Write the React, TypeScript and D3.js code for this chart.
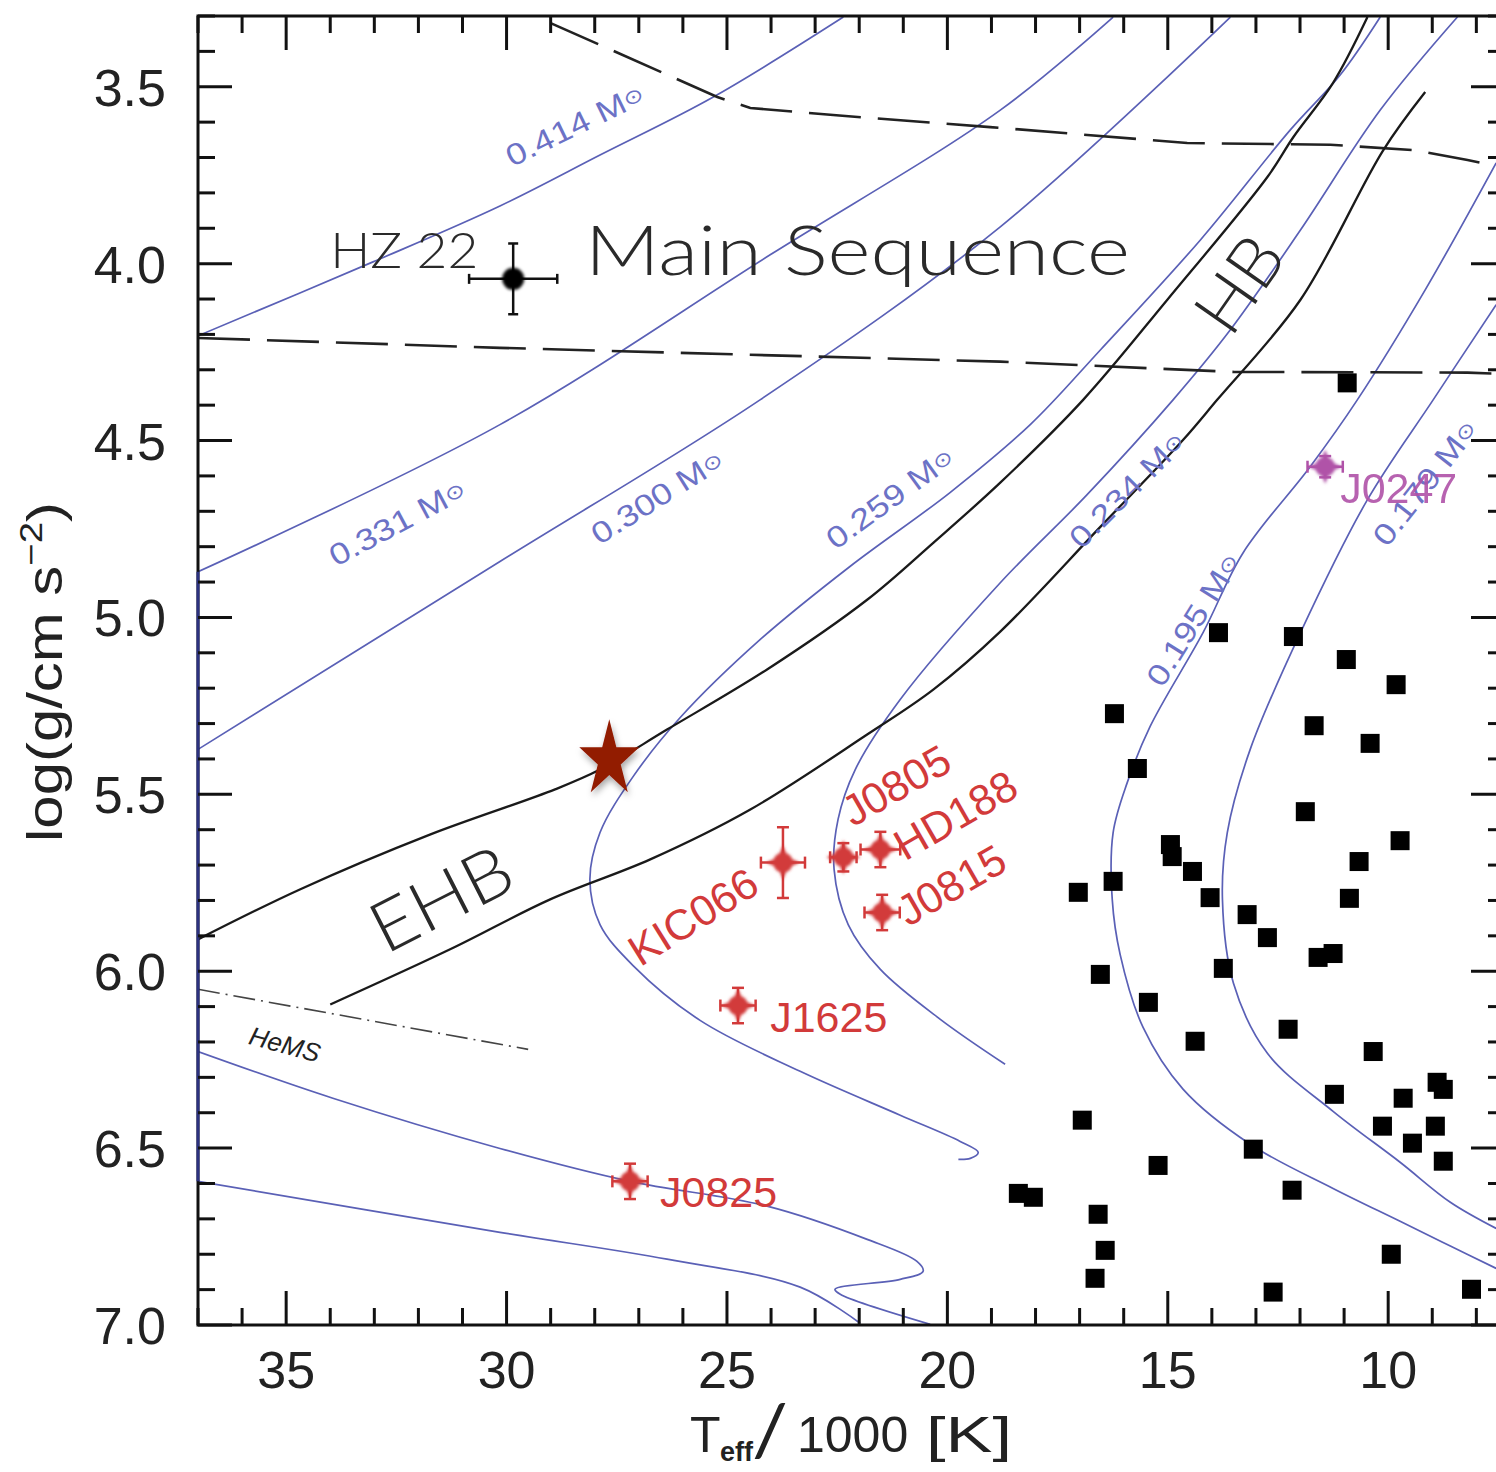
import React from 'react';
import * as d3 from 'd3';

const W = 1496;
const H = 1472;
const PLOT = { left: 198, top: 16, right: 1505, bottom: 1325 };

const xDomain = [37, 7.35];
const yDomain = [3.3, 7.0];
const xMajorTicks = [35, 30, 25, 20, 15, 10];
const yMajorTicks = [3.5, 4.0, 4.5, 5.0, 5.5, 6.0, 6.5, 7.0];

// Evolutionary tracks (Teff/1000, log g)
const track414T = [37, 33.03, 30.15, 27.88, 25.31, 22.36];
const track414G = [4.204, 3.995, 3.837, 3.693, 3.529, 3.303];
const track331T = [37, 30.15, 24.02, 18.8, 16.24];
const track331G = [4.871, 4.455, 3.975, 3.566, 3.303];
const track300T = [37, 30.15, 24.25, 18.8, 13.58];
const track300G = [5.373, 4.842, 4.385, 3.896, 3.303];
const track259T = [10.18, 11.09, 12.22, 14.26, 16.53, 18.12, 19.94, 22.21, 24.25, 26.06, 27.13, 27.88, 28.11, 27.88, 27.13, 25.61, 23.34, 21.07, 19.71, 19.3, 19.48, 19.75];
const track259G = [3.303, 3.467, 3.622, 3.933, 4.244, 4.455, 4.647, 4.856, 5.063, 5.283, 5.45, 5.608, 5.741, 5.868, 5.984, 6.139, 6.283, 6.407, 6.481, 6.512, 6.529, 6.532];
const track234T = [8.43, 10.18, 11.99, 13.58, 14.88, 16.83, 18.8, 21.07, 22.09, 22.48, 22.57, 22.25, 21.52, 20.16, 18.69];
const track234G = [3.303, 3.566, 3.905, 4.187, 4.385, 4.653, 4.902, 5.232, 5.43, 5.571, 5.712, 5.868, 5.995, 6.136, 6.263];
const track195T = [7.55, 9.16, 10.7, 11.77, 13.29, 14.2, 15.4, 15.92, 16.24, 16.26, 16.08, 15.56, 14.65, 13.13, 11.25, 9.73, 8.59, 7.55];
const track195G = [3.715, 4.074, 4.385, 4.574, 4.817, 5.043, 5.308, 5.467, 5.608, 5.797, 5.953, 6.159, 6.334, 6.489, 6.614, 6.707, 6.777, 6.84];
const track179T = [7.55, 8.98, 10.47, 11.99, 13.13, 13.65, 13.76, 13.51, 12.74, 11.25, 9.73, 8.59, 7.55];
const track179G = [4.116, 4.385, 4.667, 5.043, 5.373, 5.608, 5.797, 6.034, 6.232, 6.396, 6.54, 6.653, 6.727];
const trackLowAT = [37, 33.94, 30.15, 27.2, 24.09, 21.82, 20.69, 20.55, 21.07, 22.55, 22.43, 20.39];
const trackLowAG = [6.227, 6.359, 6.501, 6.594, 6.664, 6.758, 6.82, 6.848, 6.871, 6.899, 6.913, 6.998];
const trackLowBT = [37, 30.15, 26.36, 23.34, 21.98];
const trackLowBG = [6.594, 6.738, 6.814, 6.893, 6.995];
const trackEdgeT = [37, 37];
const trackEdgeG = [4.871, 6.594];

// Horizontal branch boundaries
const zahbT = [37, 34.69, 31.74, 28.9, 27.88, 26.36, 24.09, 21.82, 20.32, 18.8, 16.92, 15.01, 12.74, 12.15, 11.25, 10.47];
const zahbG = [5.91, 5.769, 5.614, 5.486, 5.43, 5.317, 5.147, 4.95, 4.789, 4.619, 4.385, 4.102, 3.755, 3.642, 3.489, 3.303];
const tahbT = [34.0, 31.28, 29.01, 26.74, 24.47, 21.82, 20.32, 18.8, 16.53, 14.65, 13.88, 11.99, 10.11, 9.16];
const tahbG = [6.094, 5.938, 5.797, 5.684, 5.543, 5.331, 5.204, 5.04, 4.744, 4.498, 4.385, 4.102, 3.679, 3.515];

// Main sequence band (dashed) and He main sequence (dash-dot)
const msTopT = [29.0, 25.22, 24.47, 22.59, 19.03, 14.56, 11.31, 9.43, 8.2, 7.55];
const msTopG = [3.32, 3.529, 3.56, 3.58, 3.614, 3.659, 3.664, 3.679, 3.707, 3.724];
const msBotT = [37, 30.15, 18.8, 13.51, 8.2, 7.55];
const msBotG = [4.21, 4.238, 4.277, 4.306, 4.308, 4.311];
const hemsT = [37, 29.51];
const hemsG = [6.051, 6.221];

// Black squares (comparison sample)
const sqT = [10.93, 13.85, 12.15, 10.95, 9.82, 16.21, 11.68, 10.41, 15.69, 11.88, 14.94, 14.9, 9.73, 10.66, 14.44, 16.24, 17.03, 14.04, 10.88, 13.2, 12.74, 11.59, 11.25, 16.53, 13.74, 15.44, 14.38, 12.27, 10.34, 11.22, 9.66, 8.89, 8.75, 16.94, 10.13, 8.93, 9.45, 13.06, 8.75, 15.22, 12.18, 18.39, 18.05, 16.58, 16.42, 16.65, 9.93, 12.61, 8.11];
const sqG = [4.337, 5.043, 5.054, 5.119, 5.19, 5.272, 5.306, 5.356, 5.427, 5.549, 5.642, 5.676, 5.631, 5.69, 5.718, 5.746, 5.777, 5.792, 5.794, 5.84, 5.905, 5.961, 5.95, 6.009, 5.992, 6.088, 6.198, 6.164, 6.227, 6.348, 6.359, 6.314, 6.334, 6.421, 6.438, 6.438, 6.486, 6.503, 6.537, 6.549, 6.619, 6.628, 6.639, 6.687, 6.789, 6.868, 6.8, 6.907, 6.899];

// Red objects with error bars
const sdbNames = ['KIC066', 'J0805', 'HD188', 'J0815', 'J1625', 'J0825'];
const sdbT = [23.73, 22.36, 21.52, 21.48, 24.75, 27.2];
const sdbG = [5.693, 5.678, 5.656, 5.834, 6.097, 6.594];
const sdbTErr = [0.5, 0.3, 0.45, 0.4, 0.4, 0.4];
const sdbGErr = [0.1, 0.04, 0.05, 0.05, 0.05, 0.05];
const sdbLabelT = [26.97, 22.14, 20.96, 20.89, 24.02, 26.52];
const sdbLabelG = [5.989, 5.594, 5.69, 5.876, 6.173, 6.667];
const sdbLabelAngle = [-32, -30, -30, -30, 0, 0];

const j0247 = { name: 'J0247', T: 11.43, G: 4.574, TErr: 0.4, GErr: 0.03, labelT: 11.09, labelG: 4.676 };
const hz22 = { name: 'HZ 22', T: 29.85, G: 4.043, TErr: 1.0, GErr: 0.1, labelT: 34.0, labelG: 4.012 };
const starT = 27.67;
const starG = 5.402;

// Track mass labels
const massLabels = ['0.414', '0.331', '0.300', '0.259', '0.234', '0.195', '0.179'];
const massLabelT = [28.45, 32.48, 26.58, 21.3, 15.92, 14.42, 9.16];
const massLabelG = [3.608, 4.732, 4.659, 4.662, 4.639, 5.006, 4.619];
const massLabelAngle = [-26, -28, -32, -36, -45, -58, -52];

const zip = (a: number[], b: number[]) => a.map((v, i) => [v, b[i]] as [number, number]);

const BLUE = '#5a60b6';
const BLUE_TXT = '#6c72c6';
const RED = '#d23a3a';
const PURPLE = '#b052a8';
const FONT = '"Liberation Sans", Arial, "DejaVu Sans", sans-serif';
const LIGHT = 'Lato, "Liberation Sans", sans-serif';

function ErrPoint({ x, y, T, G, TErr, GErr, color, blob }: any) {
  const cx = x(T), cy = y(G);
  const x0 = x(T + TErr), x1 = x(T - TErr);
  const y0 = y(G - GErr), y1 = y(G + GErr);
  const cap = 6;
  return (
    <g stroke={color} fill={color}>
      <line x1={x0} x2={x1} y1={cy} y2={cy} strokeWidth={2.5} />
      <line x1={x0} x2={x0} y1={cy - cap} y2={cy + cap} strokeWidth={2.5} />
      <line x1={x1} x2={x1} y1={cy - cap} y2={cy + cap} strokeWidth={2.5} />
      <line x1={cx} x2={cx} y1={y0} y2={y1} strokeWidth={2.5} />
      <line x1={cx - cap} x2={cx + cap} y1={y0} y2={y0} strokeWidth={2.5} />
      <line x1={cx - cap} x2={cx + cap} y1={y1} y2={y1} strokeWidth={2.5} />
      <g filter="url(#blur)" stroke="none">
        <path d={blob} transform={`translate(${cx},${cy})`} />
        <circle cx={cx} cy={cy} r={10} />
      </g>
    </g>
  );
}

export default function App() {
  const x = d3.scaleLinear().domain(xDomain).range([PLOT.left, PLOT.right]);
  const y = d3.scaleLinear().domain(yDomain).range([PLOT.top, PLOT.bottom]);

  const smooth = d3.line<[number, number]>().x(d => x(d[0])).y(d => y(d[1])).curve(d3.curveCatmullRom.alpha(0.5));
  const straight = d3.line<[number, number]>().x(d => x(d[0])).y(d => y(d[1]));

  const tracks = [
    zip(track414T, track414G), zip(track331T, track331G), zip(track300T, track300G),
    zip(track259T, track259G), zip(track234T, track234G), zip(track195T, track195G),
    zip(track179T, track179G), zip(trackLowAT, trackLowAG), zip(trackLowBT, trackLowBG),
  ];

  const xMinor = d3.range(8, 38, 1);
  const yMinor = d3.range(33, 71, 1).map(v => v / 10);
  const majorLen = 34, minorLen = 17;

  const blob = 'M0,-17 L5,-5 L17,0 L5,5 L0,17 L-5,5 L-17,0 L-5,-5 Z';
  const starPath = d3.symbol().type(d3.symbolStar).size(1115)() as string;

  return (
    <svg width={W} height={H} style={{ position: 'absolute', left: 0, top: 0, background: '#fff' }} fontFamily={FONT}>
      <defs>
        <clipPath id="plotclip">
          <rect x={PLOT.left} y={PLOT.top} width={PLOT.right - PLOT.left} height={PLOT.bottom - PLOT.top} />
        </clipPath>
        <filter id="blur" x="-50%" y="-50%" width="200%" height="200%">
          <feGaussianBlur stdDeviation="1.8" />
        </filter>
        <filter id="shadow" x="-50%" y="-50%" width="200%" height="200%">
          <feDropShadow dx="1.5" dy="3" stdDeviation="3" floodColor="#000" floodOpacity="0.35" />
        </filter>
      </defs>

      <g clipPath="url(#plotclip)">
        {tracks.map((t, i) => (
          <path key={i} d={smooth(t) as string} fill="none" stroke={BLUE} strokeWidth={1.7} />
        ))}
        <path d={straight(zip(msTopT, msTopG)) as string} fill="none" stroke="#222" strokeWidth={2.6} strokeDasharray="52 17" />
        <path d={straight(zip(msBotT, msBotG)) as string} fill="none" stroke="#222" strokeWidth={2.6} strokeDasharray="52 17" />
        <path d={straight(zip(hemsT, hemsG)) as string} fill="none" stroke="#444" strokeWidth={1.6} strokeDasharray="22 6 2 6" />
        <path d={smooth(zip(zahbT, zahbG)) as string} fill="none" stroke="#1a1a1a" strokeWidth={2.3} />
        <path d={smooth(zip(tahbT, tahbG)) as string} fill="none" stroke="#1a1a1a" strokeWidth={2.3} />
        {sqT.map((t, i) => (
          <rect key={i} x={x(t) - 9.5} y={y(sqG[i]) - 9.5} width={19} height={19} fill="#000" />
        ))}
      </g>

      <rect x={PLOT.left} y={PLOT.top} width={PLOT.right - PLOT.left} height={PLOT.bottom - PLOT.top} fill="none" stroke="#111" strokeWidth={3} />
      <path d={straight(zip(trackEdgeT, trackEdgeG)) as string} stroke="#2c3280" strokeWidth={3} fill="none" />

      <g stroke="#111" strokeWidth={3}>
        {xMinor.map(v => {
          const len = xMajorTicks.includes(v) ? majorLen : minorLen;
          return (
            <g key={'x' + v}>
              <line x1={x(v)} x2={x(v)} y1={PLOT.bottom} y2={PLOT.bottom - len} />
              <line x1={x(v)} x2={x(v)} y1={PLOT.top} y2={PLOT.top + len} />
            </g>
          );
        })}
        {yMinor.map(v => {
          const major = yMajorTicks.some(m => Math.abs(m - v) < 1e-6);
          const len = major ? majorLen : minorLen;
          return (
            <g key={'y' + v}>
              <line x1={PLOT.left} x2={PLOT.left + len} y1={y(v)} y2={y(v)} />
              <line x1={PLOT.right} x2={PLOT.right - len} y1={y(v)} y2={y(v)} />
            </g>
          );
        })}
      </g>

      <g fill="#222" fontSize={52}>
        {xMajorTicks.map(v => (
          <text key={v} x={x(v)} y={PLOT.bottom + 63} textAnchor="middle">{v}</text>
        ))}
        {yMajorTicks.map(v => (
          <text key={v} x={166} y={y(v) + 19} textAnchor="end">{d3.format('.1f')(v)}</text>
        ))}
      </g>

      {/* x-axis title */}
      <g fill="#222" fontSize={50}>
        <text x={690} y={1452}>T</text>
        <text x={720} y={1461} fontSize={27} fontWeight="bold">eff</text>
        <text x={752} y={1456} fontFamily={LIGHT} fontWeight={400} fontSize={72} textLength={36} lengthAdjust="spacingAndGlyphs">/</text>
        <text x={797} y={1452}>1000</text>
        <text x={926} y={1452} textLength={86} lengthAdjust="spacingAndGlyphs">[K]</text>
      </g>
      {/* y-axis title */}
      <text transform="translate(62,672) rotate(-90)" textAnchor="middle" fontSize={50} fill="#222" textLength={340} lengthAdjust="spacingAndGlyphs">
        log(g/cm s<tspan fontSize={32} dy={-20}>−2</tspan><tspan dy={20}>)</tspan>
      </text>

      {massLabels.map((m, i) => (
        <text key={m} transform={`translate(${x(massLabelT[i])},${y(massLabelG[i])}) rotate(${massLabelAngle[i]})`}
          textAnchor="middle" dominantBaseline="central" fontSize={30} fill={BLUE_TXT}
          textLength={150} lengthAdjust="spacingAndGlyphs">
          {m} M<tspan fontSize={20}>⊙</tspan>
        </text>
      ))}

      <text x={x(28.22)} y={y(4.032)} fontFamily={LIGHT} fontWeight={300} fontSize={68} fill="#2a2a2a" textLength={545} lengthAdjust="spacingAndGlyphs">Main Sequence</text>
      <text transform={`translate(${x(31.51)},${y(5.789)}) rotate(-27)`} fontFamily={LIGHT} fontWeight={300} textAnchor="middle" dominantBaseline="central" fontSize={70} fill="#2a2a2a" textLength={150} lengthAdjust="spacingAndGlyphs">EHB</text>
      <text transform={`translate(${x(13.42)},${y(4.054)}) rotate(-55)`} fontFamily={LIGHT} fontWeight={300} textAnchor="middle" dominantBaseline="central" fontSize={70} fill="#2a2a2a" textLength={100} lengthAdjust="spacingAndGlyphs">HB</text>
      <text transform={`translate(${x(35.03)},${y(6.207)}) rotate(15)`} textAnchor="middle" dominantBaseline="central" fontSize={26} fontStyle="italic" fill="#222">HeMS</text>

      <g>
        <line x1={x(hz22.T + hz22.TErr)} x2={x(hz22.T - hz22.TErr)} y1={y(hz22.G)} y2={y(hz22.G)} stroke="#111" strokeWidth={2.5} />
        <line x1={x(hz22.T)} x2={x(hz22.T)} y1={y(hz22.G - hz22.GErr)} y2={y(hz22.G + hz22.GErr)} stroke="#111" strokeWidth={2.5} />
        <line x1={x(hz22.T + hz22.TErr)} x2={x(hz22.T + hz22.TErr)} y1={y(hz22.G) - 5} y2={y(hz22.G) + 5} stroke="#111" strokeWidth={2.5} />
        <line x1={x(hz22.T - hz22.TErr)} x2={x(hz22.T - hz22.TErr)} y1={y(hz22.G) - 5} y2={y(hz22.G) + 5} stroke="#111" strokeWidth={2.5} />
        <line x1={x(hz22.T) - 5} x2={x(hz22.T) + 5} y1={y(hz22.G - hz22.GErr)} y2={y(hz22.G - hz22.GErr)} stroke="#111" strokeWidth={2.5} />
        <line x1={x(hz22.T) - 5} x2={x(hz22.T) + 5} y1={y(hz22.G + hz22.GErr)} y2={y(hz22.G + hz22.GErr)} stroke="#111" strokeWidth={2.5} />
        <circle cx={x(hz22.T)} cy={y(hz22.G)} r={11} fill="#000" filter="url(#blur)" />
        <text x={x(hz22.labelT)} y={y(hz22.labelG)} fontFamily={LIGHT} fontWeight={300} fontSize={50} fill="#2a2a2a" textLength={148} lengthAdjust="spacingAndGlyphs">{hz22.name}</text>
      </g>

      {sdbNames.map((n, i) => (
        <g key={n}>
          <ErrPoint x={x} y={y} T={sdbT[i]} G={sdbG[i]} TErr={sdbTErr[i]} GErr={sdbGErr[i]} color={RED} blob={blob} />
          <text transform={`translate(${x(sdbLabelT[i])},${y(sdbLabelG[i])}) rotate(${sdbLabelAngle[i]})`} fontSize={43} fill={RED}>{n}</text>
        </g>
      ))}

      <ErrPoint x={x} y={y} T={j0247.T} G={j0247.G} TErr={j0247.TErr} GErr={j0247.GErr} color={PURPLE} blob={blob} />
      <text x={x(j0247.labelT)} y={y(j0247.labelG)} fontSize={43} fill={PURPLE} opacity={0.9}>{j0247.name}</text>

      <path d={starPath} transform={`translate(${x(starT)},${y(starG)}) scale(1,1.28)`} fill="#921a06" filter="url(#shadow)" />
    </svg>
  );
}
